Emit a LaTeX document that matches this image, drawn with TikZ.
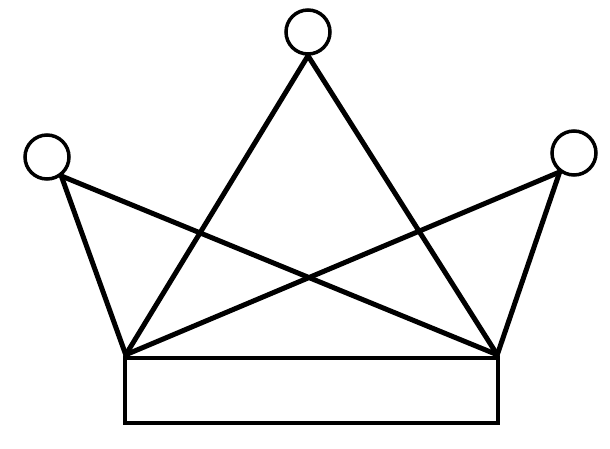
\documentclass[tikz,border=0pt]{standalone}
\begin{document}
\begin{tikzpicture}[x=1pt,y=-1pt,
  ball/.style={circle,draw,line width=3.5pt,minimum size=44pt,inner sep=0pt},
  bar/.style={line width=5pt,line cap=round,line join=round},
  basebox/.style={draw,line width=4.5pt,rectangle,minimum width=373pt,minimum height=65pt,inner sep=0pt}]
\useasboundingbox (0,0) rectangle (610,448);
\node[ball] (t) at (308,32) {};
\node[ball] (l) at (47,157) {};
\node[ball] (r) at (574,153) {};
\node[basebox] (b) at (311.5,390.5) {};
\coordinate (bl) at ([shift={(3,-1)}]b.north west);
\coordinate (br) at ([shift={(-3,-1)}]b.north east);
\coordinate (tj) at (t.south);
\coordinate (lj) at (l.-53);
\coordinate (rj) at (r.-127);
\draw[bar] (tj) -- (bl);
\draw[bar] (tj) -- (br);
\draw[bar] (lj) -- (bl);
\draw[bar] (lj) -- (br);
\draw[bar] (rj) -- (br);
\draw[bar] (rj) -- (bl);
\end{tikzpicture}
\end{document}
